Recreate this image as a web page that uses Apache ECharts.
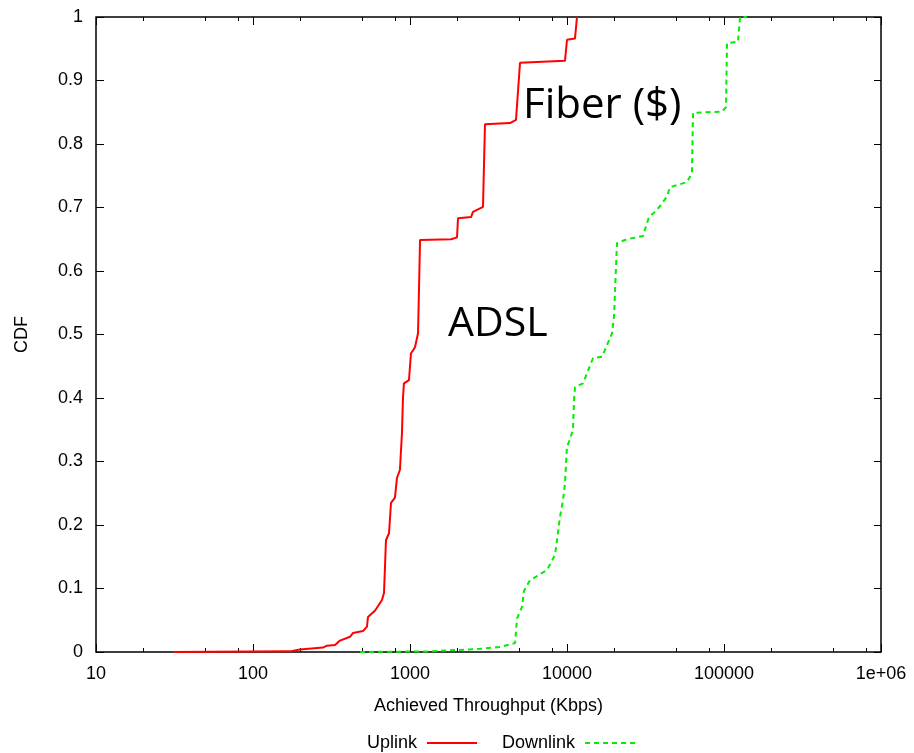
<!DOCTYPE html>
<html>
<head>
<meta charset="utf-8">
<script src="https://cdn.jsdelivr.net/npm/echarts@6/dist/echarts.min.js"></script>
<style>
html,body{margin:0;padding:0;background:#fff;}
#chart{width:914px;height:753px;}
</style>
</head>
<body>
<div id="chart"></div>
<script>
// ---- data ----
var uplinkX = [31, 172, 199, 279, 296, 333, 358, 415, 434, 502, 532, 540, 598, 663, 683, 703, 735, 757, 802, 826, 863, 889, 902, 915, 985, 1014, 1076, 1125, 1159, 1826, 1993, 2022, 2448, 2519, 2917, 3004, 4336, 4733, 5020, 9707, 10000, 11240, 11580];
var uplinkY = [0, 0.001, 0.004, 0.007, 0.01, 0.011, 0.018, 0.024, 0.03, 0.033, 0.04, 0.055, 0.065, 0.082, 0.093, 0.176, 0.187, 0.235, 0.243, 0.274, 0.287, 0.345, 0.40, 0.423, 0.428, 0.47, 0.48, 0.502, 0.649, 0.65, 0.653, 0.683, 0.685, 0.693, 0.701, 0.831, 0.833, 0.838, 0.928, 0.931, 0.964, 0.966, 1.0];
var downlinkX = [481, 1340, 2792, 3740, 4667, 4808, 5168, 5321, 5808, 7456, 8390, 8636, 9025, 9430, 9707, 9993, 10440, 10912, 11090, 11240, 12650, 14650, 16720, 19360, 19920, 20810, 24100, 30470, 33270, 37400, 43320, 45270, 58080, 62500, 63480, 97100, 103000, 104500, 122800, 126500, 140000];
var downlinkY = [0, 0.001, 0.005, 0.008, 0.014, 0.053, 0.071, 0.096, 0.113, 0.129, 0.153, 0.176, 0.213, 0.239, 0.266, 0.323, 0.335, 0.35, 0.397, 0.417, 0.423, 0.463, 0.465, 0.502, 0.528, 0.644, 0.65, 0.655, 0.685, 0.696, 0.717, 0.732, 0.74, 0.754, 0.849, 0.851, 0.858, 0.959, 0.961, 1.0, 1.0];
var xTickValues = [10, 100, 1000, 10000, 100000, 1000000];
var xTickLabels = ['10', '100', '1000', '10000', '100000', '1e+06'];
var xMinorTicks = [20, 50, 80, 200, 500, 800, 2000, 5000, 8000, 20000, 50000, 80000, 200000, 500000, 800000];
var seriesNames = ['Uplink', 'Downlink'];
var annotations = ['Fiber ($)', 'ADSL'];
var axisNames = ['Achieved Throughput (Kbps)', 'CDF'];

function pairs(xs, ys) { return xs.map(function (x, i) { return [x, ys[i]]; }); }

var labelFont = "'Liberation Sans', Arial, sans-serif";
var chart = echarts.init(document.getElementById('chart'), null, {renderer: 'canvas'});

function logAxis(pos, opts) {
  var a = {
    type: 'log', logBase: 10, min: 10, max: 1000000, position: pos,
    gridIndex: 0,
    axisLine: {show: false},
    splitLine: {show: false},
    axisLabel: {show: false},
    axisTick: {show: true, inside: true, length: 8, lineStyle: {color: '#000', width: 1}}
  };
  for (var k in opts) a[k] = opts[k];
  return a;
}

var option = {
  animation: false,
  backgroundColor: '#fff',
  grid: {left: 96, right: 33, top: 17, bottom: 101, show: true, borderColor: '#000', borderWidth: 1.5, backgroundColor: 'transparent'},
  legend: {
    data: seriesNames,
    left: 362, top: 729,
    align: 'right',
    itemWidth: 50, itemHeight: 12, itemGap: 24,
    itemStyle: {opacity: 0},
    textStyle: {fontFamily: labelFont, fontSize: 18, color: '#000', padding: [0, 5, 0, 0]}
  },
  xAxis: [
    logAxis('bottom', {
      name: axisNames[0], nameLocation: 'middle', nameGap: 45,
      nameTextStyle: {fontFamily: labelFont, fontSize: 18, color: '#000'},
      axisLabel: {show: true, margin: 13, fontFamily: labelFont, fontSize: 18, color: '#000',
        customValues: xTickValues,
        formatter: function (v) { var i = xTickValues.indexOf(Math.round(v)); return i >= 0 ? xTickLabels[i] : ''; }},
      axisTick: {show: true, inside: true, length: 8, customValues: xTickValues, lineStyle: {color: '#000', width: 1}}
    }),
    logAxis('bottom', {axisTick: {show: true, inside: true, length: 4, customValues: xMinorTicks, lineStyle: {color: '#000', width: 1}}}),
    logAxis('top', {axisTick: {show: true, inside: true, length: 8, customValues: xTickValues, lineStyle: {color: '#000', width: 1}}}),
    logAxis('top', {axisTick: {show: true, inside: true, length: 4, customValues: xMinorTicks, lineStyle: {color: '#000', width: 1}}})
  ],
  yAxis: [
    {
      type: 'value', min: 0, max: 1, interval: 0.1, position: 'left',
      name: axisNames[1], nameLocation: 'middle', nameGap: 65,
      nameTextStyle: {fontFamily: labelFont, fontSize: 18, color: '#000'},
      axisLine: {show: false}, splitLine: {show: false},
      axisTick: {show: true, inside: true, length: 8, lineStyle: {color: '#000', width: 1}},
      axisLabel: {margin: 13, fontFamily: labelFont, fontSize: 18, color: '#000'}
    },
    {
      type: 'value', min: 0, max: 1, interval: 0.1, position: 'right',
      axisLine: {show: false}, splitLine: {show: false},
      axisTick: {show: true, inside: true, length: 7, lineStyle: {color: '#000', width: 1}},
      axisLabel: {show: false}
    }
  ],
  series: [
    {
      name: seriesNames[0], type: 'line', xAxisIndex: 0, yAxisIndex: 0,
      data: pairs(uplinkX, uplinkY), symbol: 'none', showSymbol: false,
      lineStyle: {color: '#ff0000', width: 2}, itemStyle: {color: '#ff0000'}, z: 3
    },
    {
      name: seriesNames[1], type: 'line', xAxisIndex: 0, yAxisIndex: 0,
      data: pairs(downlinkX, downlinkY), symbol: 'none', showSymbol: false,
      lineStyle: {color: '#00ee00', width: 2, type: [5, 4]}, itemStyle: {color: '#00ee00'}, z: 3
    }
  ],
  graphic: [
    {type: 'text', left: 523, top: 85, style: {text: annotations[0], fontFamily: "'Open Sans', sans-serif", fontSize: 42, fill: '#000'}},
    {type: 'text', left: 448, top: 304, style: {text: annotations[1], fontFamily: "'Open Sans', sans-serif", fontSize: 41, fill: '#000'}}
  ]
};
chart.setOption(option);
</script>
</body>
</html>
